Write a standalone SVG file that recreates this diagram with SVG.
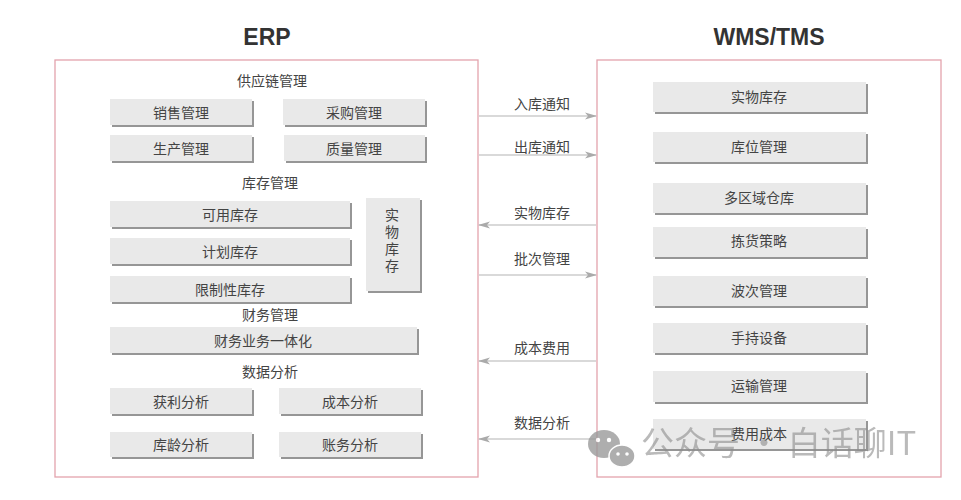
<svg xmlns="http://www.w3.org/2000/svg" width="961" height="500" viewBox="0 0 961 500">
<defs>
<filter id="sh" x="-5%" y="-20%" width="115%" height="160%">
<feDropShadow dx="2" dy="2" stdDeviation="0.7" flood-color="#8a8a8a" flood-opacity="0.9"/>
</filter>
<marker id="ah" markerWidth="12" markerHeight="8" refX="11" refY="4" orient="auto" markerUnits="userSpaceOnUse">
<path d="M0,0.5 L12,4 L0,7.5 L3,4 Z" fill="#aaaaaa"/>
</marker>
<style>
.frame{fill:#ffffff;stroke:#e3a3ad;stroke-width:1.3}
.title{font-family:"Liberation Sans","Noto Sans",sans-serif;font-weight:bold;font-size:23px;fill:#333;text-anchor:middle}
.box{fill:#e9e9e9;filter:url(#sh)}
.t{font-family:"Noto Sans CJK SC",sans-serif;font-size:14px;fill:#444;text-anchor:middle;dominant-baseline:central}
.h{font-family:"Noto Sans CJK SC",sans-serif;font-size:14px;fill:#444;text-anchor:middle;dominant-baseline:central}
.v{font-family:"Noto Sans CJK SC",sans-serif;font-size:14px;fill:#444;writing-mode:vertical-rl;text-anchor:middle;letter-spacing:3px}
.c{stroke:#cccccc;stroke-width:1.3;fill:none;marker-end:url(#ah)}
.wm{font-family:"Noto Sans CJK SC",sans-serif;font-size:33px;fill:#8c8c8c;opacity:0.75}
</style>
</defs>
<rect width="961" height="500" fill="#ffffff"/>
<text class="title" x="267" y="45">ERP</text>
<text class="title" x="769" y="45">WMS/TMS</text>
<rect id="erp" class="frame" x="55" y="60" width="423" height="417"/>
<rect id="wms" class="frame" x="597" y="60" width="344" height="417"/>

<g id="erp-headers">
<text class="h" x="272" y="80">供应链管理</text>
<text class="h" x="270" y="182">库存管理</text>
<text class="h" x="270" y="314">财务管理</text>
<text class="h" x="270" y="371">数据分析</text>
</g>

<g id="n-xiaoshou"><rect class="box" x="110" y="99" width="142" height="26"/><text class="t" x="181" y="112">销售管理</text></g>
<g id="n-caigou"><rect class="box" x="283" y="99" width="142" height="26"/><text class="t" x="354" y="112">采购管理</text></g>
<g id="n-shengchan"><rect class="box" x="110" y="135" width="142" height="26"/><text class="t" x="181" y="148">生产管理</text></g>
<g id="n-zhiliang"><rect class="box" x="284" y="135" width="141" height="26"/><text class="t" x="354" y="148">质量管理</text></g>
<g id="n-keyong"><rect class="box" x="110" y="201" width="240" height="26"/><text class="t" x="230" y="214">可用库存</text></g>
<g id="n-jihua"><rect class="box" x="110" y="238" width="240" height="26"/><text class="t" x="230" y="251">计划库存</text></g>
<g id="n-xianzhi"><rect class="box" x="110" y="276" width="240" height="26"/><text class="t" x="230" y="289">限制性库存</text></g>
<g id="n-shiwu-erp"><rect class="box" x="366" y="198" width="54" height="93"/>
<text class="v" x="392" y="242">实物库存</text></g>
<g id="n-caiwu"><rect class="box" x="110" y="327" width="307" height="26"/><text class="t" x="263" y="340">财务业务一体化</text></g>
<g id="n-huoli"><rect class="box" x="110" y="388" width="142" height="26"/><text class="t" x="181" y="401">获利分析</text></g>
<g id="n-chengben"><rect class="box" x="279" y="388" width="142" height="26"/><text class="t" x="350" y="401">成本分析</text></g>
<g id="n-kuling"><rect class="box" x="110" y="432" width="142" height="25"/><text class="t" x="181" y="444">库龄分析</text></g>
<g id="n-zhangwu"><rect class="box" x="279" y="432" width="142" height="25"/><text class="t" x="350" y="444">账务分析</text></g>

<g id="w-shiwu"><rect class="box" x="653" y="82" width="213" height="30"/><text class="t" x="759" y="96">实物库存</text></g>
<g id="w-kuwei"><rect class="box" x="653" y="132" width="213" height="30"/><text class="t" x="759" y="146">库位管理</text></g>
<g id="w-duoquyu"><rect class="box" x="653" y="183" width="213" height="30"/><text class="t" x="759" y="197">多区域仓库</text></g>
<g id="w-jianhuo"><rect class="box" x="653" y="227" width="213" height="30"/><text class="t" x="759" y="240">拣货策略</text></g>
<g id="w-boci"><rect class="box" x="653" y="276" width="213" height="30"/><text class="t" x="759" y="290">波次管理</text></g>
<g id="w-shouchi"><rect class="box" x="653" y="323" width="213" height="30"/><text class="t" x="759" y="337">手持设备</text></g>
<g id="w-yunshu"><rect class="box" x="653" y="371" width="213" height="31"/><text class="t" x="759" y="385">运输管理</text></g>
<g id="w-feiyong"><rect class="box" x="653" y="419" width="213" height="30"/><text class="t" x="759" y="433">费用成本</text></g>

<g id="connectors">
<line class="c" x1="479" y1="116" x2="596" y2="116"/>
<line class="c" x1="479" y1="155" x2="596" y2="155"/>
<line class="c" x1="596" y1="225" x2="479" y2="225"/>
<line class="c" x1="479" y1="275" x2="596" y2="275"/>
<line class="c" x1="596" y1="361" x2="479" y2="361"/>
<line class="c" x1="596" y1="439" x2="479" y2="439"/>
<text class="t" x="542" y="103">入库通知</text>
<text class="t" x="542" y="146">出库通知</text>
<text class="t" x="542" y="212">实物库存</text>
<text class="t" x="542" y="258">批次管理</text>
<text class="t" x="542" y="347">成本费用</text>
<text class="t" x="542" y="422">数据分析</text>
</g>

<g id="watermark" opacity="0.8">
<ellipse cx="604" cy="444" rx="16" ry="14" fill="#9a9a9a"/>
<ellipse cx="622" cy="456" rx="13" ry="11" fill="#9a9a9a" stroke="#ffffff" stroke-width="1.5"/>
<circle cx="598" cy="440" r="2.2" fill="#fff"/><circle cx="609" cy="440" r="2.2" fill="#fff"/>
<circle cx="618" cy="454" r="1.8" fill="#fff"/><circle cx="627" cy="454" r="1.8" fill="#fff"/>
<text class="wm" x="641" y="455">公众号 · 白话聊IT</text>
</g>
</svg>
